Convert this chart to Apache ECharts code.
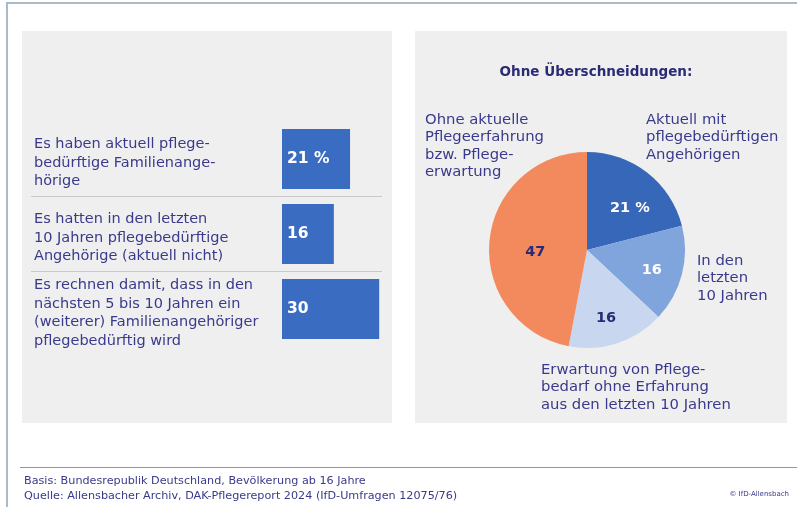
<!DOCTYPE html>
<html>
<head>
<meta charset="utf-8">
<script src="https://cdn.jsdelivr.net/npm/echarts@6/dist/echarts.min.js"></script>
<style>
  html, body { margin: 0; padding: 0; background: #ffffff; }
  #wrap { position: relative; width: 797px; height: 507px; overflow: hidden; background: #ffffff; }
  #frame { position: absolute; left: 6px; top: 2px; width: 800px; height: 520px; border-top: 2px solid #a9bbc8; border-left: 2px solid #a9bbc8; }
  .panel { position: absolute; top: 31px; height: 392px; background: #efefef; }
  #chart { position: absolute; left: 0; top: 0; width: 797px; height: 507px; }
  #rule { position: absolute; left: 20px; top: 467px; width: 777px; height: 0; border-top: 1.5px solid #8e8ed2; }
</style>
</head>
<body>
<div id="wrap">
  <div id="frame"></div>
  <div class="panel" style="left:22px;width:370px;"></div>
  <div class="panel" style="left:415px;width:372px;"></div>
  <div id="rule"></div>
  <div id="chart"></div>
</div>
<script>
// ---- Data ----
const barCategories = [
  'Es haben aktuell pflege-\nbedürftige Familienange-\nhörige',
  'Es hatten in den letzten\n10 Jahren pflegebedürftige\nAngehörige (aktuell nicht)',
  'Es rechnen damit, dass in den\nnächsten 5 bis 10 Jahren ein\n(weiterer) Familienangehöriger\npflegebedürftig wird'
];
const barValues = [21, 16, 30];

const pieTitle = 'Ohne Überschneidungen:';
const pieNames = [
  'Aktuell mit\npflegebedürftigen\nAngehörigen',
  'In den\nletzten\n10 Jahren',
  'Erwartung von Pflege-\nbedarf ohne Erfahrung\naus den letzten 10 Jahren',
  'Ohne aktuelle\nPflegeerfahrung\nbzw. Pflege-\nerwartung'
];
const pieValues = [21, 16, 16, 47];

const footerLines = [
  'Basis: Bundesrepublik Deutschland, Bevölkerung ab 16 Jahre',
  'Quelle: Allensbacher Archiv, DAK-Pflegereport 2024 (IfD-Umfragen 12075/76)'
];
const copyright = '© IfD-Allensbach';

// ---- Styles ----
const FONT = 'DejaVu Sans';
const TEXT = '#3a3a8c';
const DARK = '#2b2b75';
const pieColors = ['#3767b9', '#80a4dc', '#c8d7ef', '#f28a5e'];
const pieLabelColors = ['#ffffff', '#ffffff', DARK, DARK];
const pieLabelPadding = [[0, 0, 2, 22], [14, 0, 0, 29], [38, 0, 0, 6], [14, 0, 0, 0]];
const pieNamePos = [
  { left: 646, top: 111 },
  { left: 697, top: 252 },
  { left: 541, top: 361 },
  { left: 425, top: 111 }
];

const chart = echarts.init(document.getElementById('chart'), null, { renderer: 'canvas' });

const titles = [
  { text: pieTitle, left: 596, top: 65, textAlign: 'center', padding: 0,
    textStyle: { fontFamily: FONT, fontSize: 13.5, fontWeight: 'bold', color: DARK } }
];
pieNames.forEach((n, i) => {
  titles.push({ text: n, left: pieNamePos[i].left, top: pieNamePos[i].top, padding: 0,
    textStyle: { fontFamily: FONT, fontSize: 14.8, fontWeight: 'normal', lineHeight: 17.5, color: TEXT } });
});
titles.push({ text: footerLines.join('\n'), left: 24, top: 474, padding: 0,
  textStyle: { fontFamily: FONT, fontSize: 11.2, fontWeight: 'normal', lineHeight: 15, color: TEXT } });
titles.push({ text: copyright, right: 8, top: 491, padding: 0,
  textStyle: { fontFamily: FONT, fontSize: 7, fontWeight: 'normal', color: TEXT } });

const valueText = p => p.dataIndex === 0 ? p.value + ' %' : String(p.value);

const option = {
  backgroundColor: 'transparent',
  animation: false,
  title: titles,
  grid: [
    { left: 282, top: 121.5, width: 97.2, height: 225 },
    { left: 31, top: 121.5, width: 351, height: 225 }
  ],
  xAxis: [
    { type: 'value', gridIndex: 0, min: 0, max: 30, show: false },
    { type: 'value', gridIndex: 1, min: 0, max: 1, show: false }
  ],
  yAxis: [
    { type: 'category', gridIndex: 0, inverse: true, data: barCategories,
      axisLine: { show: false }, axisTick: { show: false }, splitLine: { show: false },
      axisLabel: { align: 'left', margin: 248, padding: [8, 0, 0, 0],
        formatter: v => v.split('\n').map(l => '{t|' + l + '}').join('\n'),
        rich: { t: { fontFamily: FONT, fontSize: 14.5, lineHeight: 18.5, color: TEXT } } } },
    { type: 'value', gridIndex: 1, min: 0, max: 3, interval: 1,
      axisLine: { show: false }, axisTick: { show: false }, axisLabel: { show: false },
      splitLine: { show: true, showMinLine: false, showMaxLine: false, lineStyle: { color: '#c9c9c9', width: 1 } } }
  ],
  series: [
    {
      type: 'bar', xAxisIndex: 0, yAxisIndex: 0, data: barValues, barWidth: 60,
      itemStyle: { color: '#3a6cc2' },
      label: { show: true, position: 'insideLeft', distance: 5, fontFamily: FONT, fontSize: 15.5,
        fontWeight: 'bold', color: '#ffffff', formatter: valueText }
    },
    {
      type: 'pie', center: [587, 250], radius: [0, 98], startAngle: 90, clockwise: true,
      avoidLabelOverlap: false, silent: true,
      data: pieValues.map((v, i) => ({
        value: v, name: pieNames[i],
        itemStyle: { color: pieColors[i] },
        label: { padding: pieLabelPadding[i],
          rich: { v: { fontFamily: FONT, fontSize: 14.5, fontWeight: 'bold', color: pieLabelColors[i] } } }
      })),
      label: { show: true, position: 'inside', formatter: p => '{v|' + valueText(p) + '}' },
      labelLine: { show: false }
    }
  ]
};
chart.setOption(option);
</script>
</body>
</html>
